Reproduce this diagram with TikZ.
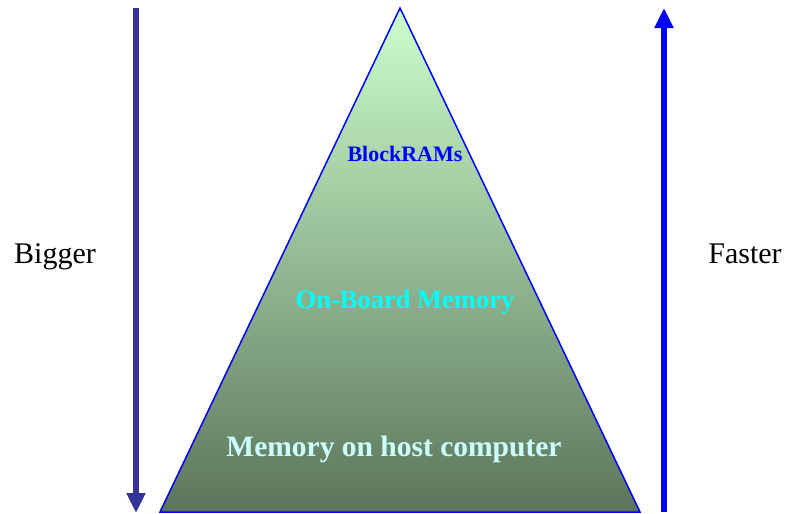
\documentclass[tikz,border=0pt]{standalone}
\usepackage{fontspec}
\setmainfont{Liberation Serif}
\usetikzlibrary{arrows.meta}

\definecolor{pyrtop}{RGB}{204,255,204}
\definecolor{pyrbot}{RGB}{92,117,92}
\definecolor{slowblue}{RGB}{51,51,153}
\definecolor{boardcyan}{RGB}{0,255,255}
\definecolor{hostcyan}{RGB}{204,255,255}

\begin{document}
\begin{tikzpicture}[x=1pt, y=-1pt,
  side/.style={anchor=base, font=\fontsize{30}{36}\selectfont},
  level/.style={anchor=base, font=\bfseries},
  arrow/.style={line width=6pt, -{Triangle[length=20pt, width=18pt]}}
]
  \useasboundingbox (0,0) rectangle (788,514);

  % pyramid corners
  \coordinate (apex) at (400,8);
  \coordinate (baseL) at (160,512);
  \coordinate (baseR) at (640,512);

  % pyramid
  \shade[top color=pyrtop, bottom color=pyrbot] (apex) -- (baseL) -- (baseR) -- cycle;
  \draw[blue, line width=1.5pt, line join=miter] (apex) -- (baseL) -- (baseR) -- cycle;

  % levels
  \node[level, text=blue, font=\bfseries\fontsize{22}{26}\selectfont] (bram) at (405,161) {BlockRAMs};
  \node[level, text=boardcyan, font=\bfseries\fontsize{26.5}{30}\selectfont] (board) at (405,308) {On-Board Memory};
  \node[level, text=hostcyan, font=\bfseries\fontsize{29.5}{34}\selectfont] (host) at (394,456) {Memory on host computer};

  % side labels
  \node[side] (bigger) at (55,263) {Bigger};
  \node[side] (faster) at (745,263) {Faster};

  % arrows
  \coordinate (bigTop) at (136,8);
  \coordinate (bigBot) at (136,513);
  \coordinate (fastBot) at (664,512);
  \coordinate (fastTop) at (664,8);
  \draw[arrow, slowblue] (bigTop) -- (bigBot);
  \draw[arrow, blue] (fastBot) -- (fastTop);

\end{tikzpicture}
\end{document}
